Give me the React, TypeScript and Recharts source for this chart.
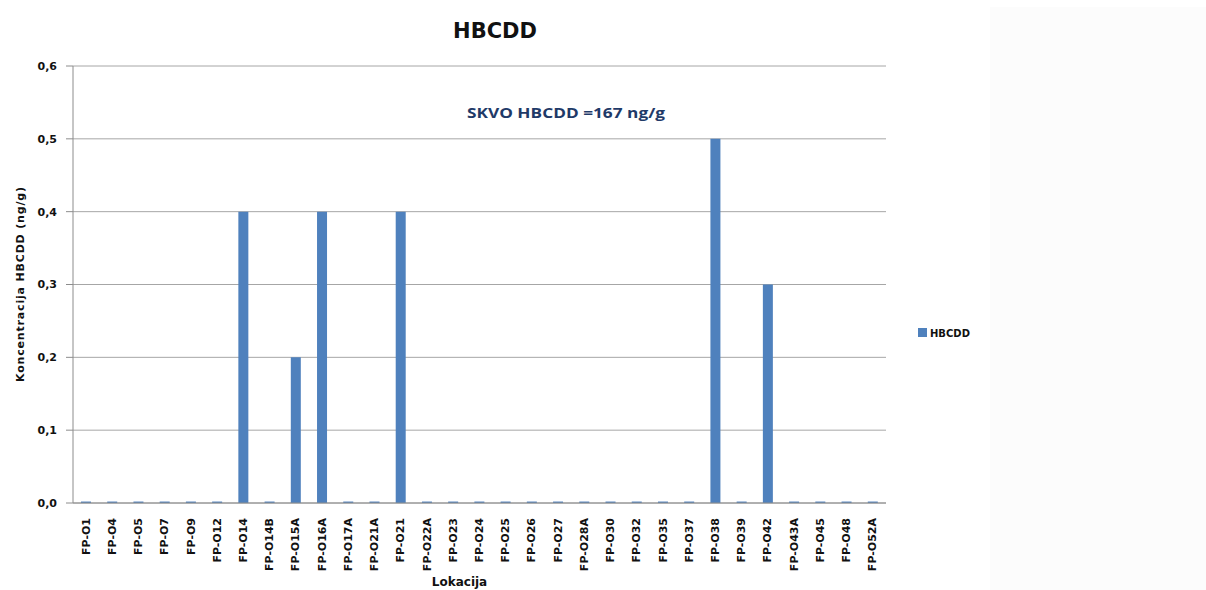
import { Bar, BarChart, CartesianGrid, XAxis, YAxis } from "recharts";

const LOCATIONS = [
  "FP-O1", "FP-O4", "FP-O5", "FP-O7", "FP-O9", "FP-O12", "FP-O14", "FP-O14B",
  "FP-O15A", "FP-O16A", "FP-O17A", "FP-O21A", "FP-O21", "FP-O22A", "FP-O23",
  "FP-O24", "FP-O25", "FP-O26", "FP-O27", "FP-O28A", "FP-O30", "FP-O32",
  "FP-O35", "FP-O37", "FP-O38", "FP-O39", "FP-O42", "FP-O43A", "FP-O45",
  "FP-O48", "FP-O52A",
];

// near-zero entries show as thin dashes on the baseline in the original
const HBCDD = [
  0.002, 0.002, 0.002, 0.002, 0.002, 0.002, 0.4, 0.002,
  0.2, 0.4, 0.002, 0.002, 0.4, 0.002, 0.002,
  0.002, 0.002, 0.002, 0.002, 0.002, 0.002, 0.002,
  0.002, 0.002, 0.5, 0.002, 0.3, 0.002, 0.002,
  0.002, 0.002,
];

const Y_TICKS = [0, 0.1, 0.2, 0.3, 0.4, 0.5, 0.6];
const BOUNDARIES = LOCATIONS.map((_, i) => i).concat(LOCATIONS.length);

const data = LOCATIONS.map((loc, i) => ({ loc, idx: i + 0.5, hbcdd: HBCDD[i] }));

const FONT = "'DejaVu Sans', Verdana, sans-serif";
const AXIS = "#8c8c8c";

function XTick({ x, y, payload }: any) {
  return (
    <text
      x={x}
      y={y}
      transform={`rotate(-90 ${x} ${y})`}
      textAnchor="end"
      dominantBaseline="central"
      fontFamily={FONT}
      fontWeight="bold"
      fontSize={11}
      fill="#111"
    >
      {payload.value}
    </text>
  );
}

export default function App() {
  return (
    <div style={{ position: "absolute", left: 0, top: 0, width: 1206, height: 590, background: "#fff", overflow: "hidden" }}>
      <div style={{ position: "absolute", left: 990, top: 7, width: 216, height: 583, background: "#fcfcfc" }} />
      <BarChart
        width={990}
        height={590}
        data={data}
        margin={{ top: 66, right: 104, left: 0, bottom: 0 }}
        barSize={10}
      >
        <CartesianGrid vertical={false} stroke="#a6a6a6" />
        {/* boundary ticks between categories, Excel style */}
        <XAxis
          xAxisId="b"
          dataKey="idx"
          type="number"
          domain={[0, LOCATIONS.length]}
          ticks={BOUNDARIES}
          allowDataOverflow
          height={0}
          axisLine={false}
          tickSize={5}
          tickFormatter={() => ""}
          stroke={AXIS}
        />
        <XAxis
          dataKey="loc"
          interval={0}
          height={87}
          tick={<XTick />}
          tickLine={false}
          tickMargin={9}
          stroke={AXIS}
          label={{ value: "Lokacija", position: "insideBottom", offset: 4, fontFamily: FONT, fontWeight: "bold", fontSize: 12, fill: "#111", dx: -20 }}
        />
        <YAxis
          width={73}
          domain={[0, 0.6]}
          ticks={Y_TICKS}
          tickFormatter={(v: number) => v.toFixed(1).replace(".", ",")}
          tickSize={7}
          tickMargin={9}
          stroke={AXIS}
          tick={{ fontFamily: FONT, fontWeight: "bold", fontSize: 11, fill: "#111" }}
          label={{ value: "Koncentracija  HBCDD  (ng/g)", angle: -90, position: "insideLeft", offset: 20, fontFamily: FONT, fontWeight: "bold", fontSize: 11, fill: "#111", style: { textAnchor: "middle", whiteSpace: "pre" }, textLength: 195 }}
        />
        <Bar dataKey="hbcdd" fill="#4f81bd" isAnimationActive={false} />
        <text x={495} y={38} textAnchor="middle" fontFamily={FONT} fontWeight="bold" fontSize={21} fill="#111">
          HBCDD
        </text>
        <text x={566} y={118} textAnchor="middle" fontFamily="'Open Sans', sans-serif" fontWeight="bold" fontSize={15} fill="#1f3a68" textLength={198} lengthAdjust="spacingAndGlyphs">
          SKVO HBCDD =167 ng/g
        </text>
        <rect x={918} y={328} width={9} height={9} fill="#4f81bd" />
        <text x={930} y={336.5} fontFamily={FONT} fontWeight="bold" fontSize={10} fill="#111">
          HBCDD
        </text>
      </BarChart>
    </div>
  );
}
